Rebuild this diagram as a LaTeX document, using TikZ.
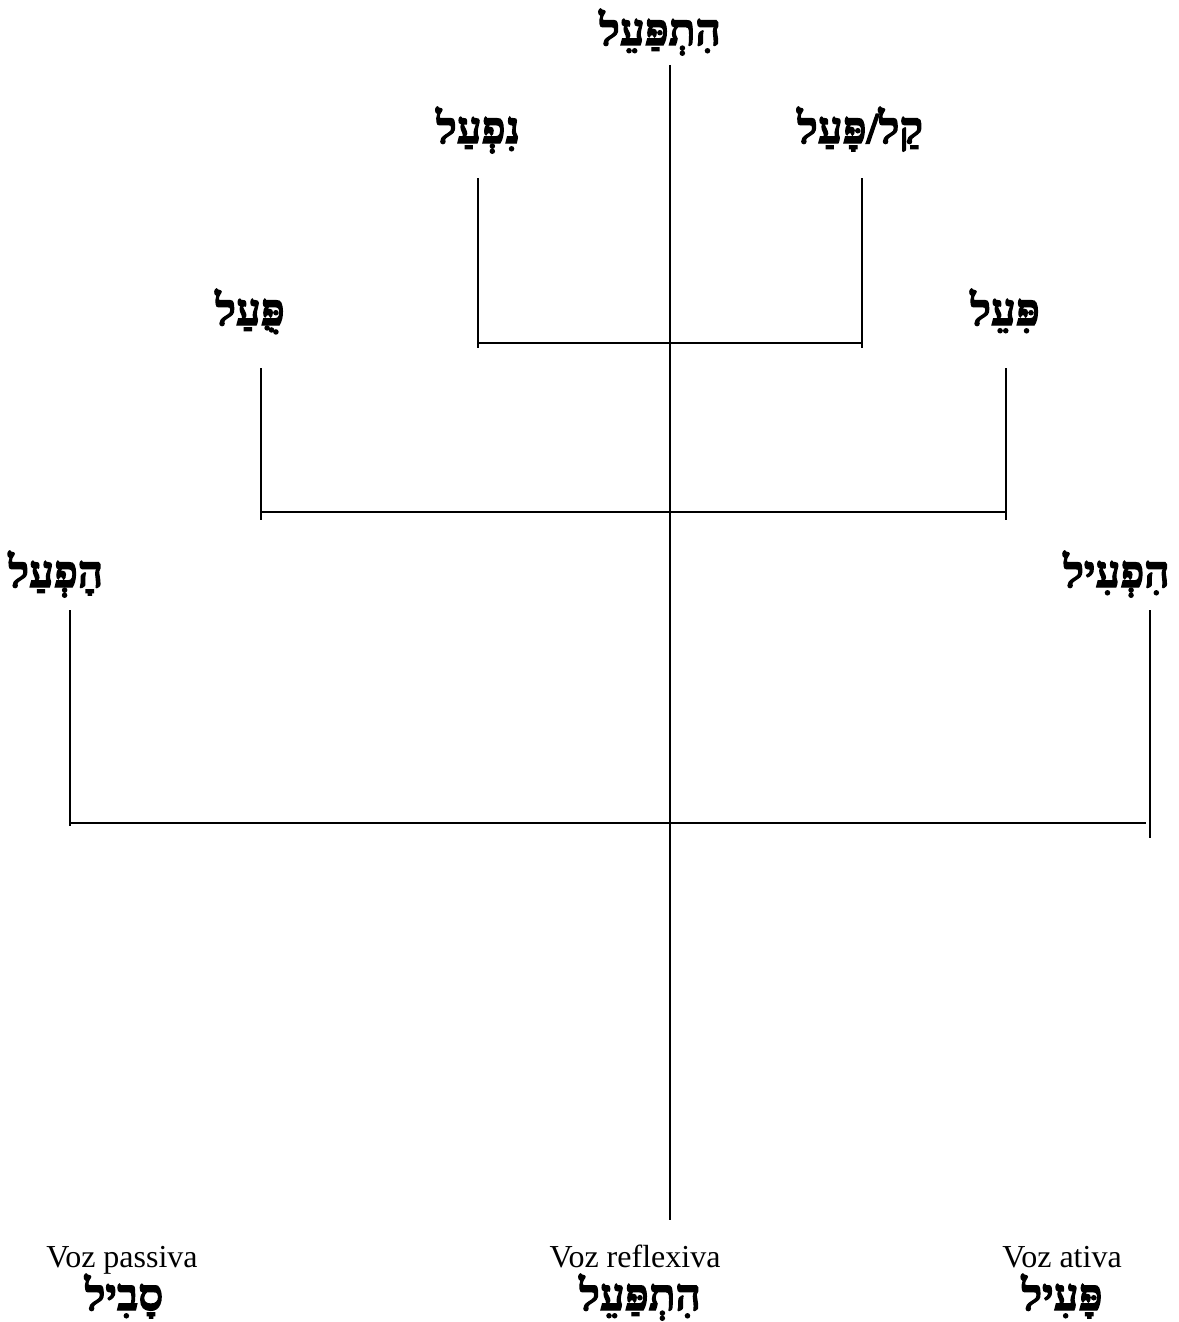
\documentclass[tikz,border=0pt]{standalone}
\usepackage{fontspec}
\setmainfont{Liberation Serif}
\newfontfamily\heb[Script=Hebrew,FakeBold=3,BoldFeatures={FakeBold=3}]{Liberation Serif}
\TeXXeTstate=1
\begin{document}
\begin{tikzpicture}[x=0.5pt,y=-0.5pt,
  hlabel/.style={inner sep=0pt,anchor=base,font=\heb\bfseries\fontsize{22}{25}\selectfont},
  vlabel/.style={inner sep=0pt,anchor=base,font=\fontsize{16}{19}\selectfont},
  branch/.style={line width=0.9pt}]
\useasboundingbox (0,0) rectangle (1178,1322);
% labels
\node[hlabel] (hitp) at (660,45) {\beginR הִתְפַּעֵל\endR};
\node[hlabel] (nifal) at (478,143) {\beginR נִפְעַל\endR};
\node[hlabel] (qal) at (860,143) {\beginR קַל/פָּעַל\endR};
\node[hlabel] (pual) at (250,325) {\beginR פֻּעַל\endR};
\node[hlabel] (piel) at (1005,325) {\beginR פִּעֵל\endR};
\node[hlabel,anchor=base west] (hofal) at (8,587) {\beginR הָפְעַל\endR};
\node[hlabel,anchor=base east] (hifil) at (1170,587) {\beginR הִפְעִיל\endR};
\node[vlabel] (vp) at (122,1267) {Voz passiva};
\node[hlabel] (vph) at (124,1310) {\beginR סָבִיל\endR};
\node[vlabel] (vr) at (635,1267) {Voz reflexiva};
\node[hlabel] (vrh) at (640,1310) {\beginR הִתְפַּעֵל\endR};
\node[vlabel] (va) at (1062,1267) {Voz ativa};
\node[hlabel] (vah) at (1062,1310) {\beginR פָּעִיל\endR};
% coordinates
\coordinate (ctop) at (670,65);
\coordinate (cbot) at (670,1220);
\coordinate (n1) at (478,178); \coordinate (n2) at (478,348);
\coordinate (q1) at (862,178); \coordinate (q2) at (862,348);
\coordinate (h1l) at (478,343); \coordinate (h1r) at (862,343);
\coordinate (p1) at (261,368); \coordinate (p2) at (261,520);
\coordinate (pi1) at (1006,368); \coordinate (pi2) at (1006,520);
\coordinate (h2l) at (261,512); \coordinate (h2r) at (1006,512);
\coordinate (ho1) at (70,610); \coordinate (ho2) at (70,826);
\coordinate (hi1) at (1150,610); \coordinate (hi2) at (1150,838);
\coordinate (h3l) at (70,823); \coordinate (h3r) at (1146,823);
% lines
\draw[branch] (ctop) -- (cbot);
\draw[branch] (n1) -- (n2);
\draw[branch] (q1) -- (q2);
\draw[branch] (h1l) -- (h1r);
\draw[branch] (p1) -- (p2);
\draw[branch] (pi1) -- (pi2);
\draw[branch] (h2l) -- (h2r);
\draw[branch] (ho1) -- (ho2);
\draw[branch] (hi1) -- (hi2);
\draw[branch] (h3l) -- (h3r);
\end{tikzpicture}
\end{document}
